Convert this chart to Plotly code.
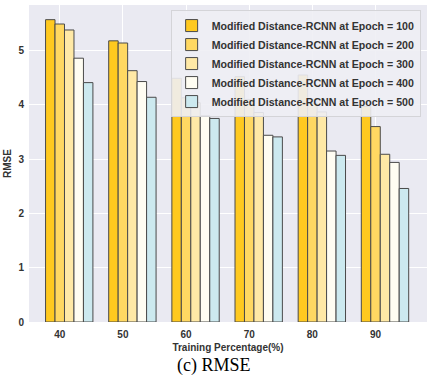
import plotly.graph_objects as go

# training percentage groups
categories = ['40', '50', '60', '70', '80', '90']
series_names = [
    'Modified Distance-RCNN at Epoch = 100',
    'Modified Distance-RCNN at Epoch = 200',
    'Modified Distance-RCNN at Epoch = 300',
    'Modified Distance-RCNN at Epoch = 400',
    'Modified Distance-RCNN at Epoch = 500',
]
epoch_100 = [5.57, 5.18, 4.49, 4.52, 4.55, 3.97]
epoch_200 = [5.49, 5.14, 4.13, 4.10, 4.03, 3.60]
epoch_300 = [5.38, 4.63, 4.04, 3.86, 3.87, 3.09]
epoch_400 = [4.86, 4.43, 3.80, 3.44, 3.15, 2.94]
epoch_500 = [4.41, 4.14, 3.75, 3.41, 3.07, 2.46]

values = [epoch_100, epoch_200, epoch_300, epoch_400, epoch_500]
colors = ['#FFC91F', '#FFD862', '#FFE9A6', '#FFFDF2', '#CCE9EF']

bar_w = 0.15
idx = list(range(len(categories)))

fig = go.Figure()
for j, (name, vals) in enumerate(zip(series_names, values)):
    # tick sits on the second bar of each group (matplotlib-style offsets)
    fig.add_trace(go.Bar(
        x=[i + (j - 1) * bar_w for i in idx],
        y=vals,
        width=bar_w,
        name=name,
        marker=dict(color=colors[j], line=dict(color='#4a4a4a', width=1)),
    ))

font_bold = dict(family='Liberation Sans, Arial, sans-serif', size=10, color='#333333', weight='bold')

fig.update_layout(
    width=430,
    height=379,
    barmode='overlay',
    paper_bgcolor='white',
    plot_bgcolor='#EAEAF2',
    margin=dict(l=29, r=3, t=5, b=57),
    font=font_bold,
    xaxis=dict(
        tickmode='array',
        tickvals=idx,
        ticktext=categories,
        range=[-0.487, 5.815],
        showgrid=True,
        gridcolor='white',
        gridwidth=1,
        zeroline=False,
        ticks='',
        ticklabelstandoff=5,
        automargin=False,
        title=dict(text='Training Percentage(%)', font=font_bold, standoff=4),
    ),
    yaxis=dict(
        range=[0, 5.84],
        dtick=1,
        showgrid=True,
        gridcolor='white',
        gridwidth=1,
        zeroline=False,
        ticks='',
        ticklabelstandoff=4,
        automargin=False,
        title=dict(text='RMSE', font=font_bold, standoff=4),
    ),
    legend=dict(
        x=0.984,
        y=0.984,
        xanchor='right',
        yanchor='top',
        bgcolor='rgba(238,238,244,0.9)',
        bordercolor='#d4d4d8',
        borderwidth=1,
        font=dict(family='Liberation Sans, Arial, sans-serif', size=10.6, color='#333333', weight='bold'),
    ),
    annotations=[dict(
        text='(c) RMSE',
        xref='paper', yref='paper',
        x=0.466, y=-0.137,
        xanchor='center', yanchor='middle',
        showarrow=False,
        font=dict(family='Liberation Serif, Times New Roman, serif', size=18, color='black', weight='normal'),
    )],
)

# drop the default body margin so the figure sits at the page corner
fig.write_html('out.html', config={'displayModeBar': False},
               post_script="document.body.style.margin='0';")
